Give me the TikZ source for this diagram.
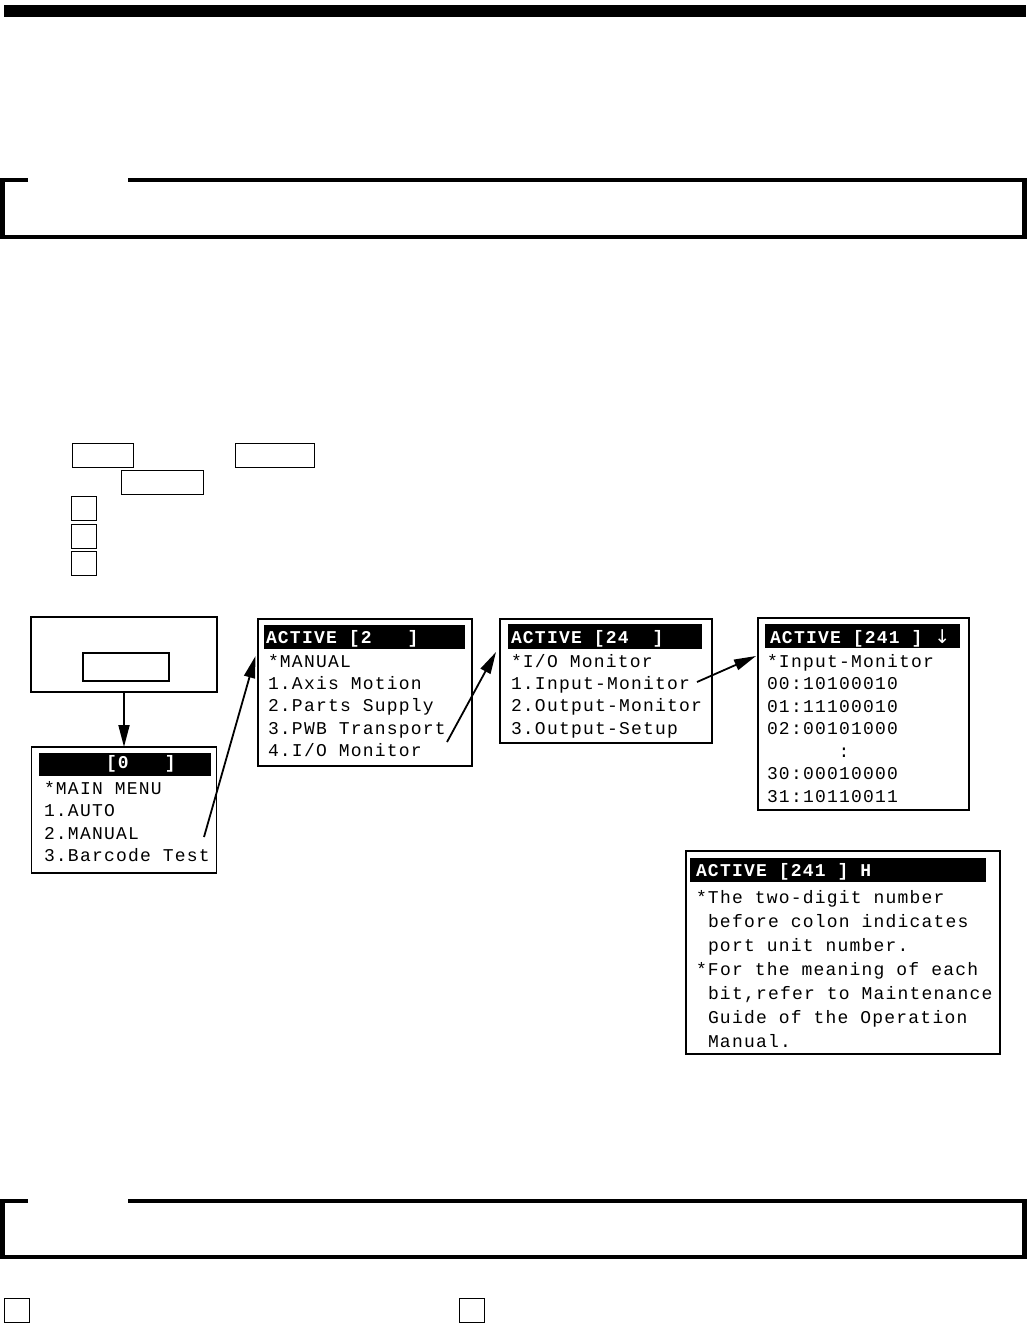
\documentclass[tikz,border=0pt]{standalone}
\usepackage{fontspec}
\usetikzlibrary{arrows.meta}
\newfontfamily\lcd[LetterSpace=6.7]{Liberation Mono}
\newfontfamily\arrfont{DejaVu Sans}
\begin{document}
\begin{tikzpicture}[x=1pt,y=-1pt,
  dbox/.style={draw, line width=1.8pt, rectangle, inner sep=0pt, outer sep=0pt},
  keybox/.style={draw, line width=1.3pt},
  hdrbar/.style={fill=black},
  ln/.style={anchor=base west, inner sep=0pt, outer sep=0pt, font=\lcd\fontsize{18}{18}\selectfont},
  hd/.style={anchor=base west, inner sep=0pt, outer sep=0pt, text=white, font=\lcd\bfseries\fontsize{18}{18}\selectfont},
  conn/.style={line width=1.8pt, -{Triangle[length=22pt,width=11pt]}},
  notice/.style={line width=4.5pt, line join=miter}]
\useasboundingbox (0,0) rectangle (1027,1323);
% top bar
\fill (4,5) rectangle (1026,17);
% notice frames
\draw[notice] (28,180) -- (2.3,180) -- (2.3,237) -- (1024.5,237) -- (1024.5,180) -- (128,180);
\draw[notice] (28,1201) -- (2.3,1201) -- (2.3,1257) -- (1024.5,1257) -- (1024.5,1201) -- (128,1201);
% key boxes
\draw[keybox] (72.3,443.3) rectangle (133.7,467.3);
\draw[keybox] (235.3,443.3) rectangle (314.3,467.3);
\draw[keybox] (121.3,470.3) rectangle (203.7,494.3);
\draw[keybox] (71.3,496.3) rectangle (96.7,520.3);
\draw[keybox] (71.3,524.3) rectangle (96.7,548.3);
\draw[keybox] (71.3,551.3) rectangle (96.7,575.3);
\draw[keybox] (4.5,1298.3) rectangle (29.5,1323);
\draw[keybox] (459.5,1298.3) rectangle (484.3,1323);
% diagram boxes
\node[dbox, minimum width=186pt, minimum height=75pt] (tl) at (124,654.5) {};
\node[dbox, line width=1.2pt, minimum width=86pt, minimum height=28pt] (tlkey) at (126,667) {};
\node[dbox, minimum width=185pt, minimum height=126pt] (mm) at (124,810) {};
\node[dbox, minimum width=214pt, minimum height=147pt] (b2) at (365,692.5) {};
\node[dbox, minimum width=212pt, minimum height=124pt] (b3) at (606,681) {};
\node[dbox, minimum width=211pt, minimum height=192pt] (b4) at (863.5,714) {};
\node[dbox, minimum width=314pt, minimum height=203pt] (b5) at (843,952.5) {};
% header bars
\fill[hdrbar] (39,753) rectangle (211,776);
\fill[hdrbar] (264,625) rectangle (465,649);
\fill[hdrbar] (508,624) rectangle (702,649);
\fill[hdrbar] (765,624) rectangle (960,648);
\fill[hdrbar] (690,858) rectangle (986,882);
% main menu
\node[hd] (mmh) at (106,768) {[0\ \ \ ]};
\node[ln] (mm1) at (44,794) {*MAIN MENU};
\node[ln] (mm2) at (44,816.5) {1.AUTO};
\node[ln] (mm3) at (44,839) {2.MANUAL};
\node[ln] (mm4) at (44,861.5) {3.Barcode Test};
% box 2
\node[hd] (b2h) at (266,643) {ACTIVE [2\ \ \ ]};
\node[ln] (b21) at (268,667) {*MANUAL};
\node[ln] (b22) at (268,689.4) {1.Axis Motion};
\node[ln] (b23) at (268,711.8) {2.Parts Supply};
\node[ln] (b24) at (268,734.2) {3.PWB Transport};
\node[ln] (b25) at (268,756.6) {4.I/O Monitor};
% box 3
\node[hd] (b3h) at (511,643) {ACTIVE [24\ \ ]};
\node[ln] (b31) at (511,667) {*I/O Monitor};
\node[ln] (b32) at (511,689.4) {1.Input-Monitor};
\node[ln] (b33) at (511,711.8) {2.Output-Monitor};
\node[ln] (b34) at (511,734.2) {3.Output-Setup};
% box 4
\node[hd] (b4h) at (770,643) {ACTIVE [241 ] {\arrfont\mdseries\fontsize{19}{19}\selectfont ↓}};
\node[ln] (b41) at (767,667) {*Input-Monitor};
\node[ln] (b42) at (767,689.5) {00:10100010};
\node[ln] (b43) at (767,712) {01:11100010};
\node[ln] (b44) at (767,734.5) {02:00101000};
\node[ln] (b45) at (838.5,757) {:};
\node[ln] (b46) at (767,779.5) {30:00010000};
\node[ln] (b47) at (767,802) {31:10110011};
% box 5
\node[hd] (b5h) at (696,876.7) {ACTIVE [241 ] H};
\node[ln] (b51) at (696,903) {*The two-digit number};
\node[ln] (b52) at (708,927) {before colon indicates};
\node[ln] (b53) at (708,951) {port unit number.};
\node[ln] (b54) at (696,975) {*For the meaning of each};
\node[ln] (b55) at (708,999) {bit,refer to Maintenance};
\node[ln] (b56) at (708,1023) {Guide of the Operation};
\node[ln] (b57) at (708,1047) {Manual.};
% connectors
\coordinate (a2s) at (204,837);
\coordinate (a2e) at (255.5,656);
\coordinate (a3s) at (447,742);
\coordinate (a3e) at (496,652);
\coordinate (a4s) at (697,682);
\coordinate (a4e) at (756,656);
\draw[conn] (tl.south) -- (tl.south |- mm.north);
\draw[conn] (a2s) -- (a2e);
\draw[conn] (a3s) -- (a3e);
\draw[conn] (a4s) -- (a4e);
\end{tikzpicture}
\end{document}
